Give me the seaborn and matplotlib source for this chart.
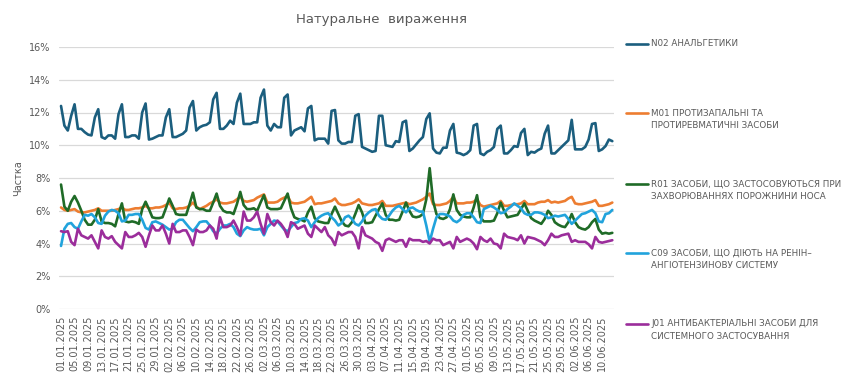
import pandas as pd
import matplotlib
matplotlib.use("Agg")
import matplotlib.pyplot as plt
from matplotlib.lines import Line2D
import seaborn as sns

# daily values, 01.01.2025 - 13.06.2025 (share, %)
dates = pd.date_range("2025-01-01", "2025-06-13", freq="D")
date_labels = list(dates.strftime("%d.%m.%Y"))

n02 = [12.4, 11.2, 10.9, 11.8, 12.5, 11.0, 11.0,
       10.8, 10.65, 10.6, 11.7, 12.2, 10.5, 10.4,
       10.6, 10.6, 10.4, 11.9, 12.5, 10.5, 10.5,
       10.6, 10.6, 10.4, 12.0, 12.55, 10.35, 10.4,
       10.5, 10.6, 10.6, 11.7, 12.2, 10.5, 10.5,
       10.6, 10.7, 10.9, 12.3, 12.7, 10.9, 11.1,
       11.2, 11.25, 11.4, 12.8, 13.2, 11.0, 11.0,
       11.2, 11.5, 11.3, 12.6, 13.15, 11.3, 11.3,
       11.3, 11.4, 11.4, 12.9, 13.4, 11.2, 10.9,
       11.3, 11.1, 11.1, 12.9, 13.1, 10.6, 10.9,
       11.0, 11.1, 10.85, 12.25, 12.4, 10.3, 10.4,
       10.4, 10.4, 10.1, 12.1, 12.15, 10.3, 10.1,
       10.1, 10.2, 10.2, 11.8, 11.9, 9.9, 9.8,
       9.7, 9.6, 9.65, 11.8, 11.8, 10.0, 9.95,
       9.9, 10.25, 10.2, 11.4, 11.5, 9.65, 9.8,
       10.05, 10.3, 10.5, 11.6, 11.95, 9.8, 9.55,
       9.5, 9.85, 9.85, 10.9, 11.3, 9.55, 9.5,
       9.4, 9.5, 9.7, 11.2, 11.3, 9.5, 9.4,
       9.6, 9.7, 9.9, 11.0, 11.2, 9.5, 9.5,
       9.7, 9.95, 9.9, 10.75, 11.0, 9.4, 9.6,
       9.55, 9.7, 9.8, 10.7, 11.2, 9.5, 9.5,
       9.7, 9.9, 10.1, 10.3, 11.55, 9.75, 9.75,
       9.75, 9.9, 10.35, 11.3, 11.35, 9.65, 9.75,
       9.95, 10.35, 10.25]

m01 = [6.2, 6.05, 6.0, 6.05, 6.1, 5.95, 5.9,
       5.9, 5.95, 6.0, 6.05, 6.15, 6.0, 6.0,
       6.0, 6.0, 6.05, 6.1, 6.2, 6.05, 6.05,
       6.1, 6.15, 6.15, 6.2, 6.3, 6.15, 6.15,
       6.2, 6.2, 6.25, 6.35, 6.5, 6.15, 6.1,
       6.15, 6.15, 6.2, 6.3, 6.5, 6.25, 6.1,
       6.2, 6.3, 6.45, 6.55, 6.7, 6.5, 6.45,
       6.45, 6.5, 6.55, 6.7, 6.85, 6.6, 6.55,
       6.6, 6.65, 6.8, 6.9, 7.0, 6.5, 6.5,
       6.5, 6.55, 6.7, 6.8, 6.9, 6.5, 6.45,
       6.45, 6.5, 6.55, 6.7, 6.85, 6.4, 6.45,
       6.45, 6.5, 6.55, 6.6, 6.75, 6.45, 6.35,
       6.35, 6.4, 6.45, 6.55, 6.7, 6.45, 6.4,
       6.35, 6.35, 6.4, 6.45, 6.6, 6.3, 6.3,
       6.3, 6.35, 6.4, 6.45, 6.5, 6.4, 6.45,
       6.5, 6.6, 6.7, 6.85, 7.05, 6.4, 6.35,
       6.35, 6.4, 6.45, 6.6, 6.85, 6.45, 6.45,
       6.45, 6.5, 6.5, 6.55, 6.7, 6.35, 6.25,
       6.3, 6.35, 6.4, 6.45, 6.6, 6.3, 6.3,
       6.35, 6.4, 6.4, 6.45, 6.6, 6.4, 6.4,
       6.4, 6.5, 6.55, 6.55, 6.65, 6.5, 6.55,
       6.5, 6.55, 6.6, 6.75, 6.85, 6.45, 6.4,
       6.4, 6.45, 6.5, 6.55, 6.65, 6.3, 6.3,
       6.35, 6.4, 6.5]

r01 = [7.6, 6.25, 6.0, 6.55, 6.9, 6.5, 6.0,
       5.45, 5.15, 5.15, 5.45, 6.1, 5.35, 5.25,
       5.25, 5.2, 5.05, 5.8, 6.45, 5.35, 5.3,
       5.35, 5.3, 5.2, 6.1, 6.55, 6.1, 5.6,
       5.55, 5.55, 5.6, 6.15, 6.75, 6.3, 5.8,
       5.75, 5.75, 5.75, 6.4, 7.1, 6.2, 6.1,
       6.1, 6.0, 6.0, 6.5, 7.05, 6.3, 6.0,
       5.9, 5.9, 5.8, 6.4, 7.15, 6.35, 6.1,
       6.1, 6.15, 6.0, 6.5, 6.95, 6.2, 6.1,
       6.1, 6.1, 6.15, 6.6, 7.05, 6.15, 5.6,
       5.5, 5.45, 5.35, 5.9, 6.25, 5.55, 5.35,
       5.3, 5.25, 5.25, 5.8, 6.25, 5.8, 5.35,
       5.1, 5.05, 5.3, 5.8, 6.35, 5.9, 5.25,
       5.25, 5.3, 5.7, 6.1, 6.45, 5.75, 5.45,
       5.45, 5.4, 5.45, 5.95, 6.5, 6.0, 5.65,
       5.6, 5.65, 5.8, 6.7, 8.6, 6.6, 5.8,
       5.55, 5.5, 5.6, 6.1, 7.0, 6.05, 5.75,
       5.65, 5.6, 5.6, 6.2, 6.95, 5.6, 5.35,
       5.35, 5.35, 5.4, 5.85, 6.5, 6.0, 5.6,
       5.65, 5.7, 5.75, 6.1, 6.45, 6.0, 5.55,
       5.4, 5.3, 5.2, 5.5, 6.0, 5.75, 5.3,
       5.15, 5.05, 5.0, 5.3, 5.8, 5.3, 5.0,
       4.9, 4.85, 5.0, 5.3, 5.5, 4.85, 4.6,
       4.65, 4.6, 4.65]

c09 = [3.85, 4.9, 5.2, 5.25, 5.0, 4.9, 5.35,
       5.75, 5.7, 5.8, 5.6, 5.25, 5.2, 5.7,
       5.95, 6.05, 6.0, 5.85, 5.35, 5.4, 5.75,
       5.75, 5.8, 5.8, 5.45, 4.95, 4.85, 5.3,
       5.35, 5.25, 5.15, 5.0, 4.85, 4.9, 5.3,
       5.45, 5.45, 5.2, 4.95, 4.75, 5.0, 5.3,
       5.35, 5.35, 5.1, 4.75, 4.6, 4.9, 5.1,
       5.1, 5.2, 5.0, 4.6, 4.45, 4.8, 5.0,
       4.9, 4.85, 4.85, 4.9, 4.5, 5.0, 5.2,
       5.4, 5.35, 5.1, 4.85, 4.75, 5.0, 5.25,
       5.3, 5.5, 5.55, 5.4, 5.0, 5.3, 5.55,
       5.7, 5.8, 5.85, 5.6, 5.4, 5.1, 5.25,
       5.6, 5.7, 5.5, 5.2, 5.1, 5.35, 5.7,
       5.9, 6.05, 6.1, 5.7, 5.5, 5.45, 5.7,
       6.0, 6.2, 6.3, 6.1, 5.9, 6.15, 6.2,
       6.05, 5.95, 5.95, 5.1, 4.1, 4.9, 5.6,
       5.8, 5.8, 5.75, 5.65, 5.4, 5.3, 5.45,
       5.75, 5.85, 5.85, 5.6, 5.3, 5.25, 6.1,
       6.2, 6.3, 6.2, 6.05, 5.85, 5.9, 6.1,
       6.25, 6.45, 6.3, 6.15, 5.85, 5.75, 5.75,
       5.9, 5.9, 5.85, 5.75, 5.55, 5.6, 5.7,
       5.65, 5.7, 5.75, 5.5, 5.2, 5.4, 5.6,
       5.8, 5.85, 5.95, 6.05, 5.85, 5.35, 5.3,
       5.8, 5.85, 6.05]

j01 = [4.75, 4.7, 4.75, 4.1, 3.9, 4.9, 4.5,
       4.4, 4.3, 4.5, 4.1, 3.7, 4.8, 4.4,
       4.3, 4.45, 4.1, 3.9, 3.7, 4.7, 4.4,
       4.4, 4.5, 4.65, 4.4, 3.8, 4.5, 5.1,
       4.8, 4.8, 5.1, 4.6, 4.0, 5.2, 4.7,
       4.7, 4.8, 4.8, 4.4, 3.9, 4.85, 4.7,
       4.7, 4.8, 5.1, 4.9, 4.3, 5.6, 5.0,
       5.0, 5.1, 5.4, 5.0, 4.5, 5.95, 5.4,
       5.4, 5.6, 5.95, 5.2, 4.6, 5.8, 5.3,
       5.1, 5.4, 5.2, 4.9, 4.4, 5.3, 5.2,
       4.9, 5.0, 5.1, 4.6, 4.4, 5.1, 4.9,
       4.7, 5.0, 4.5, 4.3, 3.9, 4.7, 4.5,
       4.6, 4.7, 4.7, 4.4, 3.7, 5.0, 4.5,
       4.4, 4.3, 4.1, 4.0, 3.55, 4.2, 4.3,
       4.2, 4.1, 4.2, 4.2, 3.8, 4.3, 4.2,
       4.2, 4.2, 4.1, 4.15, 4.0, 4.3, 4.2,
       4.2, 3.9, 4.0, 4.1, 3.7, 4.4, 4.1,
       4.2, 4.3, 4.2, 4.0, 3.65, 4.4, 4.2,
       4.1, 4.3, 4.0, 3.95, 3.7, 4.6, 4.4,
       4.35, 4.3, 4.2, 4.5, 4.0, 4.4, 4.35,
       4.3, 4.2, 4.1, 3.9, 4.2, 4.6, 4.4,
       4.4, 4.5, 4.55, 4.6, 4.1, 4.2, 4.1,
       4.1, 4.1, 3.95, 3.7, 4.4, 4.1, 4.05,
       4.1, 4.15, 4.2]

series_names = [
    "N02 АНАЛЬГЕТИКИ",
    "M01 ПРОТИЗАПАЛЬНІ ТА\nПРОТИРЕВМАТИЧНІ ЗАСОБИ",
    "R01 ЗАСОБИ, ЩО ЗАСТОСОВУЮТЬСЯ ПРИ\nЗАХВОРЮВАННЯХ ПОРОЖНИНИ НОСА",
    "C09 ЗАСОБИ, ЩО ДІЮТЬ НА РЕНІН–\nАНГІОТЕНЗИНОВУ СИСТЕМУ",
    "J01 АНТИБАКТЕРІАЛЬНІ ЗАСОБИ ДЛЯ\nСИСТЕМНОГО ЗАСТОСУВАННЯ",
]
colors = ["#1B5E7E", "#ED7D31", "#1F6B27", "#21A3DC", "#9B2D9B"]

df = pd.concat([
    pd.DataFrame({"day": range(len(dates)), "share": vals, "group": name})
    for name, vals in zip(series_names, [n02, m01, r01, c09, j01])
])

sns.set_style("white")
plt.rcParams["font.family"] = ["DejaVu Sans"]
grey = "#595959"

fig = plt.figure(figsize=(8.5, 3.79), dpi=100)
ax = fig.add_axes([59 / 850, 1 - 309 / 379, (614 - 59) / 850, (309 - 47) / 379])

sns.lineplot(data=df, x="day", y="share", hue="group", hue_order=series_names,
             palette=dict(zip(series_names, colors)), linewidth=1.9,
             legend=False, ax=ax)

ax.set_ylim(0, 16)
ax.set_xlim(-0.6, len(dates) - 0.5)
ax.set_yticks(range(0, 17, 2))
ax.set_yticklabels([f"{v}%" for v in range(0, 17, 2)], fontsize=7, color=grey)
ax.set_xticks(range(0, len(dates), 4))
ax.set_xticklabels(date_labels[::4], rotation=90, fontsize=7, color=grey)
ax.tick_params(axis="both", length=0)
ax.tick_params(axis="y", pad=6)
ax.tick_params(axis="x", pad=5)
ax.yaxis.grid(True, color="#D9D9D9", linewidth=0.9)
ax.set_axisbelow(True)
for s in ax.spines.values():
    s.set_visible(False)
ax.set_xlabel("")
ax.set_ylabel("Частка", fontsize=7, color=grey, labelpad=4)

fig.text(381 / 850, 1 - 19 / 379, "Натуральне  вираження", ha="center", va="center",
         fontsize=9.5, color=grey)

# legend on the right, line aligned with first text row
legend_y = [44, 113, 184, 253, 324]
for name, col, y in zip(series_names, colors, legend_y):
    fy = 1 - y / 379
    fig.add_artist(Line2D([626 / 850, 648 / 850], [fy, fy], color=col, linewidth=1.9,
                          transform=fig.transFigure))
    fig.text(651 / 850, fy + 4.5 / 379, name, ha="left", va="top", fontsize=6.3,
             color=grey, linespacing=1.45)

fig.savefig("out.png", dpi=100)
